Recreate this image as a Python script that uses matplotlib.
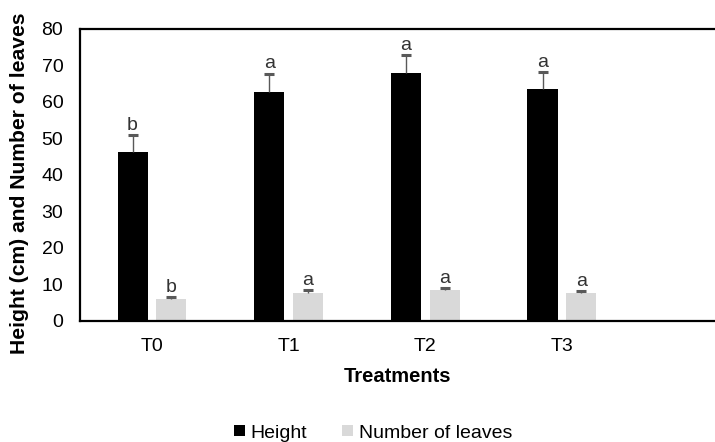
import numpy as np
import matplotlib.pyplot as plt

plt.rcParams["font.family"] = ["Liberation Sans", "DejaVu Sans"]

treatments = ["T0", "T1", "T2", "T3"]
height = [46.2, 62.7, 67.9, 63.6]
height_err = [4.8, 5.1, 5.0, 4.7]
leaves = [6.0, 7.7, 8.5, 7.7]
leaves_err = [0.5, 0.7, 0.5, 0.6]
height_letters = ["b", "a", "a", "a"]
leaves_letters = ["b", "a", "a", "a"]

fig = plt.figure(figsize=(7.15, 4.42), dpi=100)
ax = fig.add_axes([0.1119, 0.2738, 0.888, 0.6606])

x = np.arange(len(treatments))
w = 0.22
off = 0.142
err_color = "#595959"

ax.bar(x - off, height, w, color="black", label="Height")
ax.bar(x + off, leaves, w, color="#d9d9d9", label="Number of leaves")

# upper-only error bars with a cap on top
for xs, vals, errs in [(x - off, height, height_err), (x + off, leaves, leaves_err)]:
    tops = np.array(vals) + np.array(errs)
    ax.vlines(xs, vals, tops, color=err_color, linewidth=1)
    ax.plot(xs, tops, ls="none", marker="_", markersize=7, markeredgewidth=2.2,
            color=err_color)

for i in range(len(treatments)):
    ax.text(x[i] - off, height[i] + height_err[i] + 1.4, height_letters[i],
            ha="center", va="baseline", fontsize=14, color="#333333")
    ax.text(x[i] + off, leaves[i] + leaves_err[i] + 1.4, leaves_letters[i],
            ha="center", va="baseline", fontsize=14, color="#333333")

ax.set_xlim(-0.527, 4.12)
ax.set_ylim(0, 80)
ax.set_yticks(range(0, 81, 10))
ax.set_xticks(x)
ax.set_xticklabels(treatments)
ax.tick_params(axis="y", length=0, pad=12, labelsize=14)
ax.tick_params(axis="x", length=0, pad=12, labelsize=14)

for s in ["left", "top", "bottom"]:
    ax.spines[s].set_linewidth(1.6)
    ax.spines[s].set_color("black")
ax.spines["right"].set_visible(False)

ax.set_xlabel("Treatments", fontsize=14.5, fontweight="bold", labelpad=9)
fig.text(20 / 715, 1 - 183 / 442, "Height (cm) and Number of leaves",
         rotation=90, ha="center", va="center", fontsize=15.2, fontweight="bold")

fig.legend(loc="center", bbox_to_anchor=(373 / 715, 1 - 433 / 442), ncol=2,
           frameon=False, fontsize=14, handlelength=0.55, handleheight=0.55,
           handletextpad=0.3, columnspacing=1.8)

fig.savefig("out.png", dpi=100)
